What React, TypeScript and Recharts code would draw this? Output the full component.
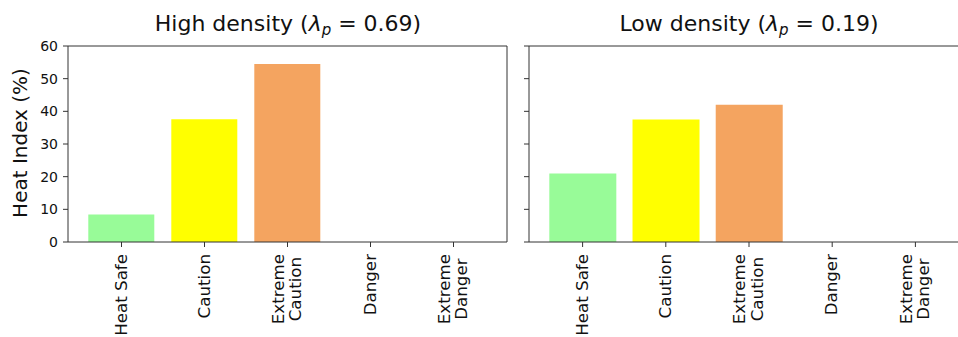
import React from "react";
import { BarChart, Bar, XAxis, YAxis, Cell } from "recharts";

const categories = ["Heat Safe", "Caution", "Extreme\nCaution", "Danger", "Extreme\nDanger"];
const highDensity = [8.4, 37.6, 54.5, 0, 0];
const lowDensity = [21.0, 37.5, 42.0, 0, 0];
const barColors = ["#98FB98", "#FFFF00", "#F4A460", "#FF0000", "#8B0000"];
const yTicks = [0, 10, 20, 30, 40, 50, 60];

const FONT = "'DejaVu Sans', sans-serif";
const AXIS = "#333333";
const TICK_FS = 16.7;

let ctx: CanvasRenderingContext2D | null = null;
function textWidth(s: string, size: number) {
  if (!ctx) ctx = document.createElement("canvas").getContext("2d");
  if (!ctx) return s.length * size * 0.6;
  ctx.font = `${size}px 'DejaVu Sans'`;
  return ctx.measureText(s).width;
}

// rotated, possibly two-line category label hanging under its tick
function CategoryTick(props: any) {
  const { x, y, payload } = props;
  const lines = String(payload.value).split("\n");
  const longest = Math.max(...lines.map((l) => textWidth(l, TICK_FS)));
  const cy = y + longest / 2;
  const step = 17.3;
  return (
    <g>
      {lines.map((l, i) => {
        const bx = x + 5 + (i - (lines.length - 1) / 2) * step;
        return (
          <text
            key={i}
            transform={`translate(${bx},${cy}) rotate(-90)`}
            textAnchor="middle"
            fontSize={TICK_FS}
            fontFamily={FONT}
            fill="#111"
          >
            {l}
          </text>
        );
      })}
    </g>
  );
}

function Panel({ values, showLabels, width, marginLeft, yWidth }: any) {
  const data = categories.map((cat, i) => ({ cat, value: values[i] }));
  return (
    <BarChart
      width={width}
      height={337}
      data={data}
      margin={{ top: 45, right: 2, bottom: 0, left: marginLeft }}
      barCategoryGap="10%"
    >
      <XAxis
        dataKey="cat"
        interval={0}
        height={95}
        padding={{ left: 12, right: 12 }}
        stroke={AXIS}
        tickSize={5}
        tickMargin={7}
        tick={<CategoryTick />}
      />
      {/* top and right spines */}
      <XAxis xAxisId="top" dataKey="cat" orientation="top" height={1} tick={false} tickLine={false} stroke={AXIS} />
      <YAxis
        domain={[0, 60]}
        ticks={yTicks}
        width={yWidth}
        stroke={AXIS}
        tickSize={5}
        tickMargin={5}
        tickFormatter={showLabels ? undefined : () => ""}
        tick={{ fontSize: 14, fontFamily: FONT, fill: "#111" }}
      />
      <YAxis yAxisId="right" orientation="right" width={1} tick={false} tickLine={false} stroke={AXIS} />
      <Bar dataKey="value" isAnimationActive={false}>
        {data.map((_, i) => (
          <Cell key={i} fill={barColors[i]} />
        ))}
      </Bar>
    </BarChart>
  );
}

function Title({ x, label, lam }: { x: number; label: string; lam: string }) {
  return (
    <text x={x} y={30.7} textAnchor="middle" fontSize={22} fontFamily={FONT} fill="#111">
      {label} (<tspan fontStyle="italic">λ</tspan>
      <tspan fontStyle="italic" fontSize={15} dy={4}>p</tspan>
      <tspan dy={-4}> = {lam})</tspan>
    </text>
  );
}

export default function App() {
  return (
    <div style={{ position: "absolute", left: 0, top: 0, width: 958, height: 337, overflow: "hidden", background: "#fff" }}>
      <div style={{ position: "absolute", left: 0, top: 0 }}>
        <Panel values={highDensity} showLabels width={510} marginLeft={18} yWidth={50} />
      </div>
      <div style={{ position: "absolute", left: 520, top: 0 }}>
        <Panel values={lowDensity} showLabels={false} width={452} marginLeft={0} yWidth={9} />
      </div>
      <svg width={958} height={337} style={{ position: "absolute", left: 0, top: 0, pointerEvents: "none" }}>
        <Title x={288} label="High density" lam="0.69" />
        <Title x={749} label="Low density" lam="0.19" />
        <text
          transform="translate(26.5,143) rotate(-90)"
          textAnchor="middle"
          fontSize={20}
          fontFamily={FONT}
          fill="#111"
        >
          Heat Index (%)
        </text>
      </svg>
    </div>
  );
}
